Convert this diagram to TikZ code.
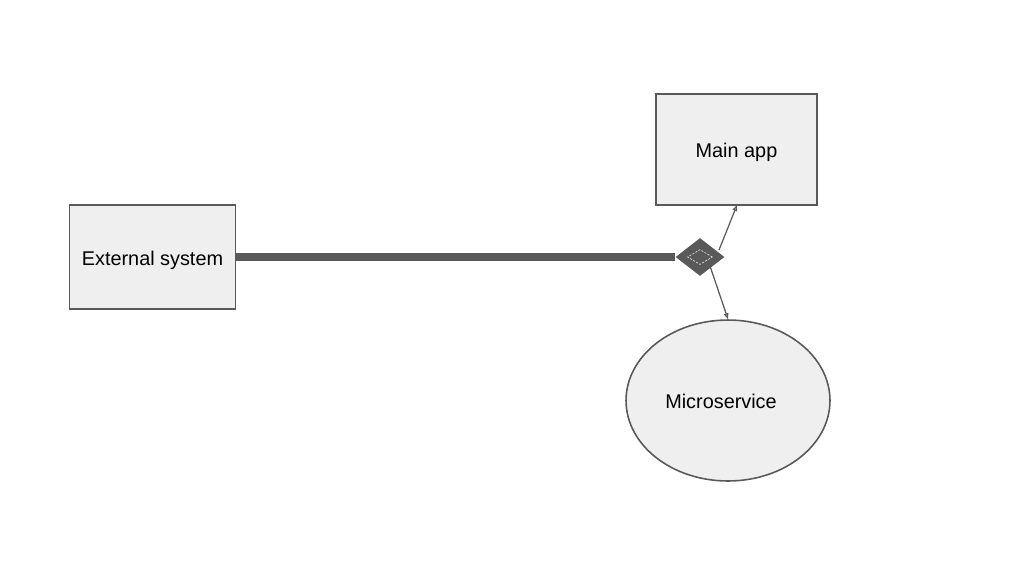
\documentclass[tikz,border=0pt]{standalone}
\usepackage{fontspec}
\setmainfont{Liberation Sans}
\usetikzlibrary{shapes.geometric,arrows.meta}
\definecolor{boxfill}{HTML}{EFEFEF}
\definecolor{edge}{HTML}{595959}
\tikzset{
  sysbox/.style={draw=edge, line width=0.9pt, fill=boxfill, rectangle, inner sep=0pt, text height=10pt, text depth=0.9pt, font=\fontsize{11.3}{13}\selectfont},
  link/.style={draw=edge, line width=0.7pt, -{Triangle[open, length=0.12cm, width=0.09cm]}}
}
\begin{document}
\begin{tikzpicture}[x=0.02cm, y=-0.02cm]
\useasboundingbox (0,0) rectangle (1024,576);
\node[sysbox, minimum width=3.32cm, minimum height=2.08cm] (ext) at (152.5,257) {External system};
\node[sysbox, minimum width=3.22cm, minimum height=2.22cm] (main) at (736.5,149.5) {Main app};
\node[sysbox, ellipse, minimum width=4.08cm, minimum height=3.22cm] (ms) at (728,400.5) {Microservice\hspace*{0.28cm}};
\node[diamond, fill=edge, inner sep=0pt, minimum width=0.98cm, minimum height=0.76cm] (hub) at (700,257) {};
\node[diamond, draw=boxfill!85!gray, dash pattern=on 1.2pt off 0.8pt, line width=0.4pt, inner sep=0pt, minimum width=0.5cm, minimum height=0.3cm] (hubin) at (hub) {};
% links
\draw[edge, line width=0.16cm] (ext.east) -- (hub.west);
\coordinate (up) at (719,250);
\coordinate (down) at (710,266);
\coordinate (mainin) at (737,205);
\draw[link] (up) -- (mainin);
\draw[link] (down) -- (ms.north);
\end{tikzpicture}
\end{document}
